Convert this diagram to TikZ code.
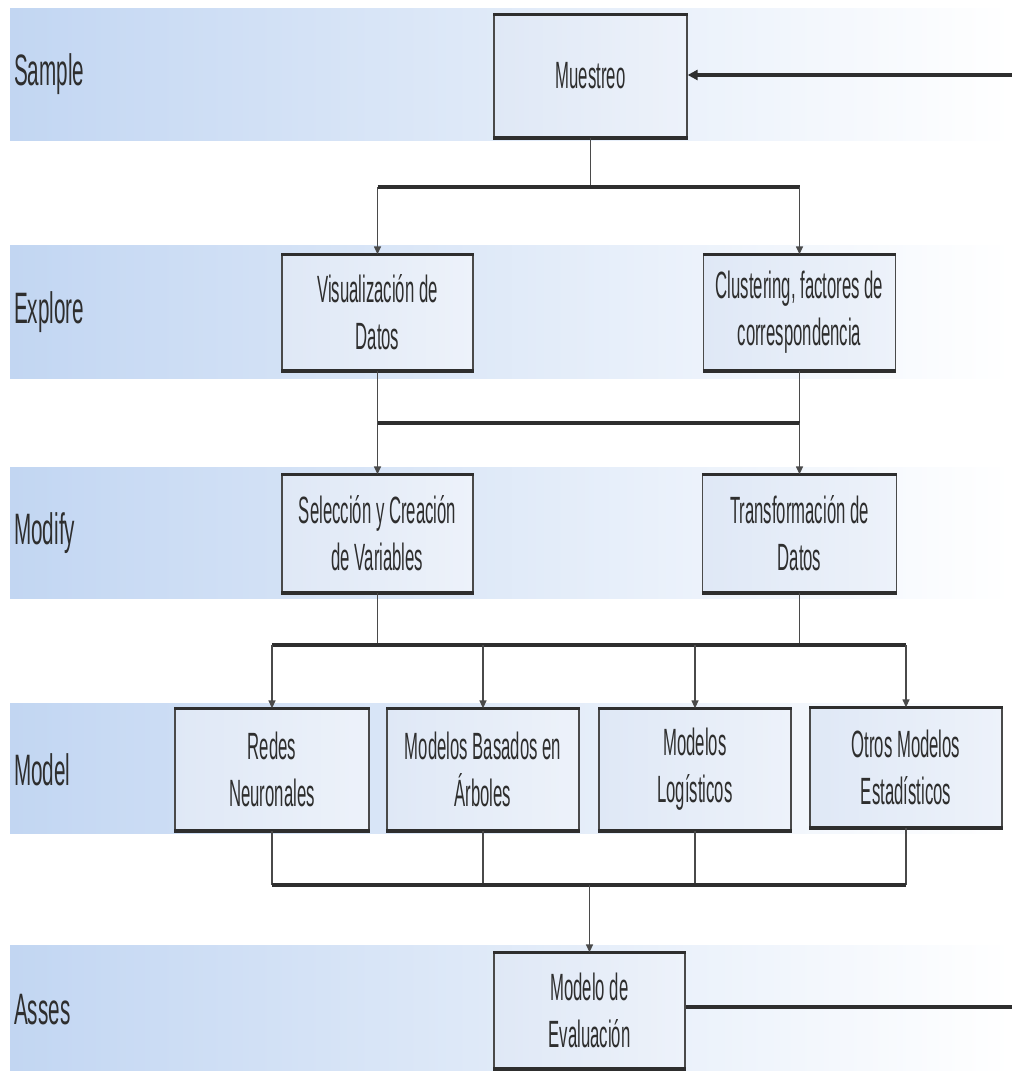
\documentclass[tikz,border=0pt]{standalone}
\usepackage{fontspec}
\setmainfont{Liberation Sans}
\newfontfamily\narrowfont[FakeStretch=0.44]{Liberation Sans}
\newfontfamily\labelfont[FakeStretch=0.47]{Liberation Sans}
\usetikzlibrary{arrows.meta}
\definecolor{bandblue}{HTML}{C2D6F2}
\definecolor{bandmid}{HTML}{E2EBF8}
\definecolor{boxleft}{HTML}{DFE8F6}
\definecolor{boxright}{HTML}{EDF2FA}
\definecolor{inkgray}{HTML}{2E2E2E}
\definecolor{linegray}{HTML}{4A4A4A}
\begin{document}
\begin{tikzpicture}[x=1pt,y=-1pt,
  bandrow/.style={left color=bandblue, middle color=bandmid, right color=white, draw=none},
  lanelabel/.style={anchor=west, inner sep=0pt, text=inkgray, font=\labelfont\fontsize{44}{48}\selectfont},
  stepbox/.style={draw=linegray, line width=1.3pt, left color=boxleft, right color=boxright, inner sep=0pt, align=center,
    text=inkgray, font=\narrowfont\fontsize{38}{47}\selectfont},
  conn/.style={draw=linegray, line width=1.3pt},
  busline/.style={draw=inkgray, line width=3.5pt},
  arr/.style={conn, -{Triangle[length=8pt,width=7pt]}},
  thickarr/.style={draw=inkgray, line width=3.5pt, -{Triangle[length=10pt,width=10pt]}},
  thickline/.style={draw=inkgray, line width=3.5pt}
]
\useasboundingbox (0,0) rectangle (1012,1071);
\fill[white] (0,0) rectangle (1012,1071);

% bands
\fill[bandrow] (10,8) rectangle (1012,140);
\fill[bandrow] (10,245) rectangle (1012,378);
\fill[bandrow] (10,467) rectangle (1012,598);
\fill[bandrow] (10,703) rectangle (1012,833);
\fill[bandrow] (10,945) rectangle (1012,1071);

% lane labels
\node[lanelabel] (lsample) at (14,74) {Sample};
\node[lanelabel] (lexplore) at (14,312) {Explore};
\node[lanelabel] (lmodify) at (14,533) {Modify};
\node[lanelabel] (lmodel) at (14,770) {Model};
\node[lanelabel] (lasses) at (14,1010) {Asses};

% boxes
\node[stepbox, minimum width=193pt, minimum height=122pt] (muestreo) at (590.5,76) {Muestreo};
\node[stepbox, minimum width=191pt, minimum height=115pt] (visual) at (377.5,312.5) {Visualización de\\Datos};
\node[stepbox, minimum width=192pt, minimum height=115pt] (cluster) at (799.5,312.5) {Clustering, factores de\\correspondencia};
\node[stepbox, minimum width=191pt, minimum height=117pt] (selec) at (377.5,533.5) {Selección y Creación\\de Variables};
\node[stepbox, minimum width=194pt, minimum height=117pt] (transf) at (799.5,533.5) {Transformación de\\Datos};
\node[stepbox, minimum width=194pt, minimum height=121pt] (redes) at (272,769.5) {Redes\\Neuronales};
\node[stepbox, minimum width=192pt, minimum height=121pt] (arboles) at (483,769.5) {Modelos Basados en\\Árboles};
\node[stepbox, minimum width=192pt, minimum height=121pt] (logist) at (695,769.5) {Modelos\\Logísticos};
\node[stepbox, minimum width=192pt, minimum height=119pt] (otros) at (906,767.5) {Otros Modelos\\Estadísticos};
\node[stepbox, minimum width=191pt, minimum height=115pt] (evalua) at (589.5,1010.5) {Modelo de\\Evaluación};

% thick top / bottom edges of boxes
\foreach \n in {muestreo,visual,cluster,selec,transf,redes,arboles,logist,otros,evalua}{
  \draw[inkgray, line width=3.5pt] (\n.north west) -- (\n.north east);
  \draw[inkgray, line width=4pt] (\n.south west) -- (\n.south east);
}

% bus coordinates
\coordinate (bus1) at (0,187);
\coordinate (bus2) at (0,423);
\coordinate (bus3) at (0,645);
\coordinate (bus4) at (0,885);
\coordinate (rin) at (1012,75);
\coordinate (rout) at (1012,1007);

% Sample -> Explore
\draw[conn] (muestreo.south) -- (muestreo.south |- bus1);
\draw[busline] (visual.north |- bus1) -- (cluster.north |- bus1);
\draw[arr] (visual.north |- bus1) -- (visual.north);
\draw[arr] (cluster.north |- bus1) -- (cluster.north);

% Explore -> Modify
\draw[conn] (visual.south) -- (visual.south |- bus2);
\draw[conn] (cluster.south) -- (cluster.south |- bus2);
\draw[busline] (visual.south |- bus2) -- (cluster.south |- bus2);
\draw[arr] (selec.north |- bus2) -- (selec.north);
\draw[arr] (transf.north |- bus2) -- (transf.north);

% Modify -> Model
\draw[conn] (selec.south) -- (selec.south |- bus3);
\draw[conn] (transf.south) -- (transf.south |- bus3);
\draw[busline] (redes.north |- bus3) -- (otros.north |- bus3);
\draw[arr] (redes.north |- bus3) -- (redes.north);
\draw[arr] (arboles.north |- bus3) -- (arboles.north);
\draw[arr] (logist.north |- bus3) -- (logist.north);
\draw[arr] (otros.north |- bus3) -- (otros.north);

% Model -> Asses
\draw[conn] (redes.south) -- (redes.south |- bus4);
\draw[conn] (arboles.south) -- (arboles.south |- bus4);
\draw[conn] (logist.south) -- (logist.south |- bus4);
\draw[conn] (otros.south) -- (otros.south |- bus4);
\draw[busline] (redes.south |- bus4) -- (otros.south |- bus4);
\draw[arr] (evalua.north |- bus4) -- (evalua.north);

% feedback lines at right
\draw[thickarr] (rin) -- (muestreo.east |- rin);
\draw[thickline] (evalua.east |- rout) -- (rout);
\end{tikzpicture}
\end{document}
